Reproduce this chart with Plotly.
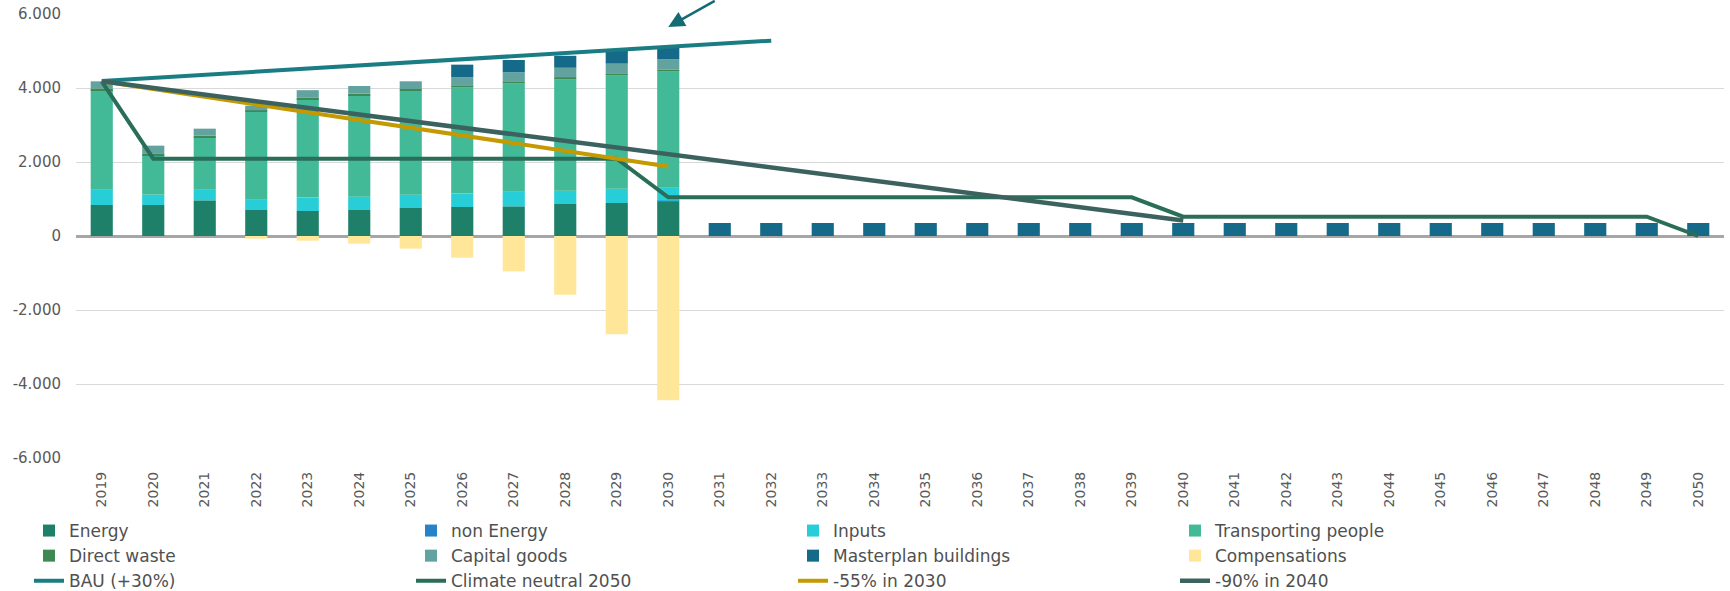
import plotly.graph_objects as go

years = [str(y) for y in range(2019, 2051)]

# Stacked components (2019-2030 measured; later years only masterplan buildings)
energy        = [838, 838, 964, 703, 676, 703, 757, 784, 802, 865, 892, 919]
non_energy    = [0, 0, 0, 0, 0, 0, 0, 0, 0, 0, 0, 35]
inputs        = [414, 279, 288, 279, 369, 360, 360, 369, 396, 360, 387, 352]
transporting  = [2693, 1064, 1406, 2370, 2649, 2739, 2802, 2866, 2929, 3010, 3064, 3136]
direct_waste  = [45, 54, 54, 45, 40, 45, 54, 54, 54, 60, 54, 60]
capital_goods = [190, 207, 189, 125, 207, 207, 208, 216, 243, 252, 261, 279]
masterplan    = [0, 0, 0, 0, 0, 0, 0, 342, 333, 324, 342, 320] + [351] * 20
compensations = [0, 0, 0, -72, -126, -207, -342, -586, -955, -1586, -2658, -4442]

# Trajectories
bau = [4190, 4275, 4360, 4440, 4525, 4610, 4695, 4780, 4860, 4945, 5030, 5115, 5200, 5280]
climate_neutral = ([4181] + [2090] * 10 + [1045] * 10 + [523] * 10 + [0])
minus55 = [4181, 3972, 3763, 3554, 3345, 3136, 2927, 2718, 2509, 2300, 2090, 1881]
minus90 = [4181, 4002, 3823, 3643, 3464, 3285, 3106, 2927, 2748, 2568, 2389, 2210,
           2031, 1852, 1673, 1494, 1314, 1135, 956, 777, 598, 418]

y_tickvals = [-6000, -4000, -2000, 0, 2000, 4000, 6000]
y_ticktext = ["-6.000", "-4.000", "-2.000", "0", "2.000", "4.000", "6.000"]

fig = go.Figure()

bar_specs = [
    ("Energy", energy, "#1F806A"),
    ("non Energy", non_energy, "#2683C6"),
    ("Inputs", inputs, "#27CED7"),
    ("Transporting people", transporting, "#42BA97"),
    ("Direct waste", direct_waste, "#3E8853"),
    ("Capital goods", capital_goods, "#62A39F"),
    ("Masterplan buildings", masterplan, "#156A8A"),
    ("Compensations", compensations, "#FFE699"),
]
for name, vals, col in bar_specs:
    fig.add_trace(go.Bar(
        x=years[:len(vals)], y=vals, name=name,
        marker=dict(color=col, line=dict(width=0)),
    ))

line_specs = [
    ("BAU (+30%)", bau, "#1A7D84", 4),
    ("Climate neutral 2050", climate_neutral, "#2A6E5A", 4),
    ("-55% in 2030", minus55, "#C59900", 4),
    ("-90% in 2040", minus90, "#3B625E", 4.5),
]
for name, vals, col, w in line_specs:
    fig.add_trace(go.Scatter(
        x=years[:len(vals)], y=vals, name=name, mode="lines",
        line=dict(color=col, width=w),
    ))

# arrow pointing at the 2030 bar (category index of "2030")
fig.add_annotation(
    x=years.index("2030"), y=5650, xref="x", yref="y", text="", showarrow=True,
    ax=48, ay=-27, arrowhead=2, arrowsize=1.3, arrowwidth=2.5,
    arrowcolor="#156B73",
)

fig.update_layout(
    width=1730, height=591,
    margin=dict(l=76, r=6, t=14, b=133, autoexpand=False),
    paper_bgcolor="white", plot_bgcolor="white",
    barmode="relative", bargap=0.57,
    font=dict(family="DejaVu Sans", color="#595959"),
    showlegend=True,
    legend=dict(
        orientation="h", xref="container", yref="container",
        x=29 / 1730, y=1 - 513 / 591, xanchor="left", yanchor="top",
        entrywidth=337, entrywidthmode="pixels",
        font=dict(family="DejaVu Sans", size=17, color="#505050"),
        traceorder="normal", bgcolor="rgba(0,0,0,0)",
    ),
    xaxis=dict(
        type="category", categoryorder="array", categoryarray=years,
        range=[-0.5, len(years) - 0.5], autorange=False, automargin=False,
        tickangle=-90, showgrid=False, showline=False,
        tickfont=dict(size=14, color="#595959"), ticks="",
        ticklabelstandoff=10,
    ),
    yaxis=dict(
        range=[-6000, 6000], tickvals=y_tickvals, ticktext=y_ticktext,
        automargin=False,
        showgrid=True, gridcolor="#D9D9D9", gridwidth=1.3,
        zeroline=True, zerolinecolor="#A6A6A6", zerolinewidth=2.5,
        showline=False, ticks="", tickfont=dict(size=15, color="#595959"),
        ticklabelstandoff=14,
    ),
)

fig.write_html(
    "out.html",
    config={"displayModeBar": False},
    post_script="document.body.style.margin='0';document.body.style.overflow='hidden';",
)
